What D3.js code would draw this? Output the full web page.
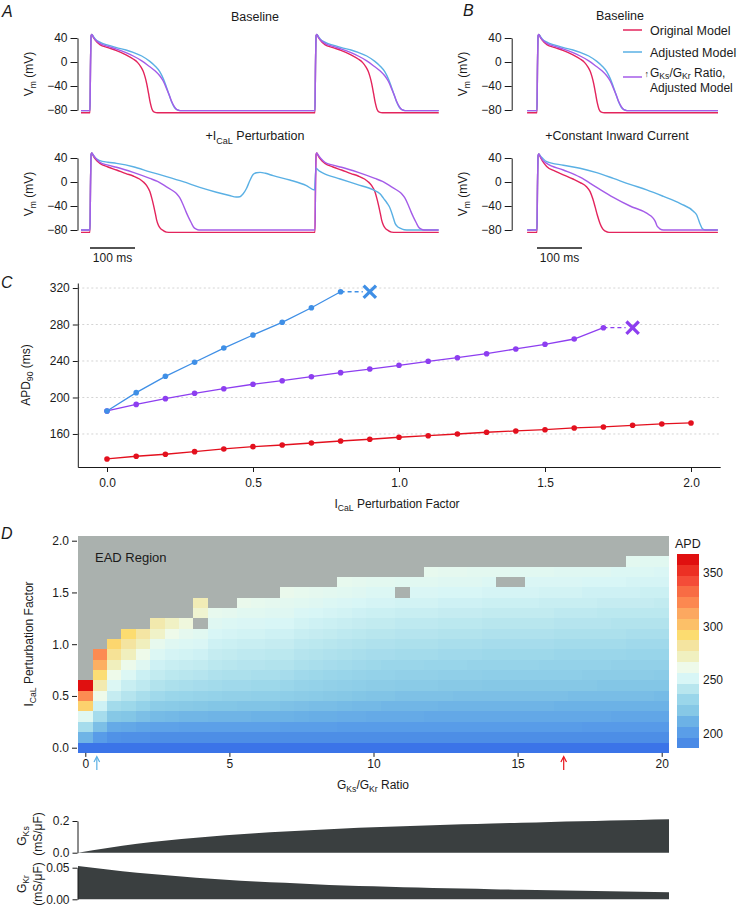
<!DOCTYPE html>
<html><head><meta charset="utf-8">
<script src="https://cdn.jsdelivr.net/npm/d3@7"></script>
<style>
html,body{margin:0;padding:0;background:#fff;}
svg{display:block;font-family:"Liberation Sans",Arial,Helvetica,sans-serif;}
</style></head><body>
<svg id="chart" width="742" height="909"></svg>
<script>
// ---------------- DATA ----------------
// Panels A/B : membrane potential traces, [time ms, Vm mV]
const beatStartsA = [0, 500];
const beatStartsB = [0];
const baselineOriginal = [[0,-84.5],[1.2,0],[2.5,44],[4,46],[7,42],[12,36],[22,29],[40,24],[59,19],[80,12],[96,5],[106,-1],[113,-8],[118,-15],[122,-24],[126,-36],[130,-52],[134,-68],[138,-79],[143,-83.5],[150,-84.5],[499,-84.5]];
const baselineAdjusted = [[0,-81],[1.2,0],[2.5,44],[4,46],[7,43],[12,38],[22,33],[40,28],[59,24],[80,20],[96,16],[115,10],[133,1],[145,-7],[155,-16],[163,-28],[170,-42],[176,-55],[181,-66],[187,-75],[193,-79.5],[200,-81],[499,-81]];
const baselineRatio = [[0,-81],[1.2,0],[2.5,44],[4,46],[7,42],[12,37],[22,31],[40,26],[59,21.5],[80,15.5],[96,10],[115,2],[133,-8],[145,-15],[155,-23],[163,-32],[170,-44],[176,-55],[181,-65],[187,-74],[193,-79.5],[200,-81],[499,-81]];
const calOriginal = [[0,-84],[1.2,0],[2.5,46],[4,48.5],[7,44],[12,38],[22,31],[40,25],[59,20],[80,14],[96,10],[110,5],[118,0.5],[126,-6],[133,-16],[137,-26],[141,-38],[145,-52],[148,-63],[152,-72],[156,-77],[163,-81],[170,-83.5],[180,-84],[499,-84]];
const calRatio = [[0,-80],[1.2,0],[2.5,46],[4,48.5],[7,45],[12,40],[22,33],[40,28],[59,24.5],[96,16],[133,6],[150,1],[170,-8],[185,-15],[193,-20],[200,-27],[207,-38],[213,-49],[219,-59],[225,-68],[230,-75],[236,-78.5],[242,-80],[499,-80]];
const calAdjustedEAD = [[-22,-80],[0,-80],[1.2,0],[2.5,46],[4,48.5],[7,45],[12,40],[22,35.5],[40,33],[59,31],[96,25.5],[133,17],[170,9],[207,0.5],[244,-9],[281,-17],[310,-22.5],[325,-25],[333,-24.5],[340,-20],[348,-10.5],[355,2],[363,12.8],[370,15.5],[378,16],[390,14.5],[407,10.5],[444,3.3],[481,-6],[499,-13.3],[500.5,5],[502,22.8],[510,18],[519,14.5],[556,5],[593,-4],[630,-13.3],[645,-20],[652,-27],[660,-35],[667,-44],[673,-57],[678,-69],[683,-74],[689,-77],[698,-79.5],[710,-80],[775,-80]];
const inwardOriginal = [[-22,-84],[0,-84],[1.2,0],[2.5,44],[4,46.7],[7,42],[12,35],[21.5,26],[40,18],[58.5,12],[80,5],[96,-1],[110,-8],[118,-16],[124,-28],[129,-41],[134,-55],[140,-69],[146,-78],[152,-82],[160,-84],[402,-84]];
const inwardRatio = [[-22,-80],[0,-80],[1.2,0],[2.5,44],[4,46.7],[7,43],[12,37],[21.5,31],[58.5,20],[95.5,8],[132.6,-9],[169.6,-25.5],[206.7,-40],[243.7,-52],[258.5,-60.5],[263,-66],[266,-72],[270,-76],[273,-78],[281,-80],[402,-80]];
const inwardAdjusted = [[-22,-80],[0,-80],[1.2,0],[2.5,44],[4,46.7],[7,44],[12,40],[21.5,34],[58.5,28],[95.5,23],[132.6,15.5],[169.6,6],[206.7,-4],[243.7,-13],[281,-24],[318.5,-36],[348,-49],[355,-55],[359,-63],[363,-71],[366.7,-77],[374,-80],[402,-80]];
const vmTicks = [-80, -40, 0, 40];
const scaleBarMs = 100;

// Panel C : APD90 vs ICaL perturbation factor
const icalFactor = [0,0.1,0.2,0.3,0.4,0.5,0.6,0.7,0.8,0.9,1.0,1.1,1.2,1.3,1.4,1.5,1.6,1.7,1.8,1.9,2.0];
const apdOriginal = [132.6,135.6,137.8,140.6,143.6,146.1,147.9,150.1,152.3,154.2,156.4,158.1,160,161.9,163.3,164.7,166.6,167.7,169.5,171,172.1];
const apdAdjusted = [185.2,205.3,223.2,238.6,254.2,268.5,282.4,298.4,315.9];
const apdRatio = [185.2,192.4,198.7,204.6,209.6,214.5,218.4,222.8,227.2,231.2,235.3,239.7,243.6,248,253.2,258.3,264.1,276.5];
const eadFactorAdjusted = 0.9;
const eadFactorRatio = 1.8;
const apdTicks = [160, 200, 240, 280, 320];
const factorTicks = [0, 0.5, 1.0, 1.5, 2.0];

// Panel D : APD heatmap, one array per GKs/GKr ratio (rows = ICaL factor 0.0 upward; null / missing = EAD)
const ratioValues = [0,0.5,1,1.5,2,2.5,3,3.5,4,4.5,5,5.5,6,6.5,7,7.5,8,8.5,9,9.5,10,10.5,11,11.5,12,12.5,13,13.5,14,14.5,15,15.5,16,16.5,17,17.5,18,18.5,19,19.5,20];
const apdGrid = [
 [186,213,236,255,296,321,362],
 [186,201,218,236,249,262,277,291,309,321],
 [186,196,208,222,235,246,254,262,273,284,294],
 [186,195,207,221,233,241,247,254,261,273,282,292],
 [186,195,205,218,229,237,244,248,255,262,273,281],
 [186,194,204,216,225,234,240,245,249,254,259,270,278],
 [186,194,204,215,224,232,238,243,247,251,255,262,271],
 [186,194,203,214,223,231,237,242,246,250,254,258,265],
 [186,194,203,214,222,230,236,241,245,249,253,256,null,268,275],
 [186,194,203,213,221,229,235,239,243,246,249,252,255,259],
 [186,194,203,213,221,228,234,238,242,245,248,251,254,258],
 [186,194,203,213,220,228,234,238,241,244,247,250,253,256,260],
 [186,194,203,212,220,227,233,237,241,244,247,250,253,256,259],
 [186,194,203,212,220,227,233,237,240,243,246,249,252,255,258],
 [186,194,202,212,219,226,232,236,240,243,246,249,252,255,257,260],
 [186,194,202,211,218,225,230,234,238,241,244,247,250,253,256,259],
 [186,194,202,210,217,224,229,233,237,240,243,246,249,252,255,258],
 [186,194,202,210,217,223,228,232,236,239,242,245,248,251,254,257],
 [186,194,201,209,216,222,227,231,235,238,241,244,247,250,253,256,259],
 [186,194,201,209,215,221,226,230,234,237,240,243,246,249,252,255,258],
 [186,194,201,208,215,220,225,229,233,236,239,242,245,248,251,254,257],
 [186,194,201,208,214,220,225,229,232,236,239,242,245,248,251,254,257],
 [186,194,201,208,214,219,224,228,232,235,238,241,244,247,250,null,256],
 [186,194,201,208,214,219,224,228,232,235,238,241,244,247,250,253,256],
 [186,194,201,207,214,219,224,228,231,235,238,241,244,247,250,253,256,259],
 [186,194,201,207,213,219,223,227,231,234,237,240,243,246,249,252,255,258],
 [186,194,201,207,213,218,223,227,231,234,237,240,243,246,249,252,255,258],
 [186,194,201,207,213,218,223,227,230,234,237,240,243,246,249,252,255,257],
 [186,194,201,207,213,218,222,226,230,233,236,239,242,245,248,251,254,257],
 [186,194,201,207,213,218,222,226,230,233,236,239,242,245,248,251,null,257],
 [186,194,201,207,213,218,222,226,230,233,236,239,242,245,248,251,null,256],
 [186,194,201,207,213,218,222,226,230,233,236,239,242,245,248,251,253,256],
 [186,194,201,207,213,218,222,226,229,233,236,239,242,245,247,250,253,256],
 [186,194,201,207,212,218,222,226,229,232,235,238,241,244,247,250,253,255],
 [186,194,201,207,212,217,222,226,229,232,235,238,241,244,247,250,253,255],
 [186,194,200,207,212,217,222,225,229,232,235,238,241,244,247,249,252,255],
 [186,194,200,207,212,217,221,225,229,232,235,238,241,243,246,249,252,255],
 [186,194,200,206,212,217,221,225,228,232,235,238,240,243,246,249,252,254],
 [186,194,200,206,212,217,221,225,228,231,234,237,240,243,246,249,251,254,257],
 [186,194,200,206,212,217,221,225,228,231,234,237,240,243,246,248,251,254,256],
 [186,194,200,206,212,216,221,224,228,231,234,237,240,243,245,248,251,253,256]
];
const apdStops  = [186,192,202,212,222,232,242,252,262,272,282,292,302,312,322,332,342,352,362];
const apdColors = ["#3b74e8","#4a8ae6","#5a9ee8","#6cb2e6","#86c8e6","#9ad6ea","#b8e6ee","#d8f6f6","#eefaea","#f0f0c0","#f4e4a0","#fcdc70","#fcc068","#fca860","#fc8850","#f86c44","#f44c38","#ec3024","#e01010"];
const legendRange = [187, 367];
const legendBins = 18;
const legendTicks = [200, 250, 300, 350];
const heatYTicks = [0, 0.5, 1.0, 1.5, 2.0];
const heatXTicks = [0, 5, 10, 15, 20];
const markerRatios = [0.4, 16.6];

// Bottom : conductances vs ratio
const gRatio = [0,1,2,3,4,5,6,7,8,9,10,11,12,13,14,15,16,17,18,19,20];
const gKs = [0,0.030,0.056,0.077,0.095,0.110,0.123,0.134,0.144,0.153,0.161,0.167,0.173,0.179,0.184,0.189,0.194,0.198,0.203,0.207,0.211];
const gKr = [0.0525,0.047,0.042,0.038,0.034,0.031,0.028,0.026,0.024,0.022,0.0205,0.019,0.018,0.017,0.016,0.015,0.0143,0.0135,0.0126,0.012,0.0112];

// ---------------- STYLE ----------------
const ink = "#1a1a1a";
const traceCol = {orig: "#e3245c", adj: "#5ab0e4", ratio: "#a45ce8"};
const cCol = {orig: "#e3101e", adj: "#3f8fe6", ratio: "#8d3ef0"};
const eadGray = "#aab1ae";
const FS = 12;

const svg = d3.select("#chart");
const defs = svg.append("defs");

function addText(x, y, parts, o = {}) {
  const size = o.size || FS;
  const t = svg.append("text").attr("x", x).attr("y", y).attr("font-size", size)
    .attr("text-anchor", o.anchor || "start").attr("fill", o.fill || ink);
  if (o.rotate) t.attr("transform", `rotate(${o.rotate},${x},${y})`);
  if (o.italic) t.attr("font-style", "italic");
  const sh = size * (o.subShift || 0.28); let low = false;
  (typeof parts === "string" ? [parts] : parts).forEach(p => {
    const sub = Array.isArray(p);
    const ts = t.append("tspan").text(sub ? p[0] : p);
    if (sub) { ts.attr("font-size", size * 0.72); if (!low) ts.attr("dy", sh); low = true; }
    else if (low) { ts.attr("dy", -sh); low = false; }
  });
  return t;
}
function styleAxis(g, removeDomain) {
  g.attr("font-family", null).attr("font-size", FS);
  g.selectAll("text").attr("fill", ink);
  g.selectAll("line").attr("stroke", ink).attr("stroke-width", 1);
  g.selectAll(".domain").attr("stroke", ink).attr("stroke-width", 1);
  if (removeDomain) g.select(".domain").remove();
}
const minusFmt = d => d < 0 ? "\u2212" + Math.abs(d) : String(d);

function buildBeats(beat, starts, tStart) {
  const out = [[tStart, beat[0][1]]];
  starts.forEach(s => beat.forEach(([t, v]) => out.push([t + s, v])));
  return out;
}

let clipN = 0;
function tracePanel(p) {
  const x = d3.scaleLinear().domain(p.tDomain).range(p.xRange);
  const y = d3.scaleLinear().domain([-80, 40]).range(p.yRange);
  const ax = d3.axisLeft(y).tickValues(vmTicks).tickFormat(minusFmt).tickSizeInner(7).tickSizeOuter(0).tickPadding(3);
  svg.append("g").attr("transform", `translate(${p.axisX},0)`).call(ax).call(g => styleAxis(g));
  const id = "clip" + (clipN++);
  defs.append("clipPath").attr("id", id).append("rect")
    .attr("x", p.xRange[0]).attr("y", p.yRange[1] - 20).attr("width", p.xRange[1] - p.xRange[0]).attr("height", 110);
  const line = d3.line().x(d => x(d[0])).y(d => y(d[1])).curve(d3.curveMonotoneX);
  const g = svg.append("g").attr("clip-path", `url(#${id})`);
  p.series.forEach(s => g.append("path").attr("d", line(s.data)).attr("fill", "none")
    .attr("stroke", s.color).attr("stroke-width", 1.4).attr("stroke-linejoin", "round"));
  addText(p.axisX - 45, (p.yRange[0] + p.yRange[1]) / 2, ["V", ["m"], " (mV)"], {rotate: -90, anchor: "middle"});
  return x;
}

// ---------------- PANEL A ----------------
const tA = [-20, 775], xA = [81, 438.75];
const tB = [-22, 402], xB = [527.1, 717.9];
const xScaleA = tracePanel({tDomain: tA, xRange: xA, yRange: [110, 38], axisX: 77.5, series: [
  {color: traceCol.orig, data: buildBeats(baselineOriginal, beatStartsA, -22)},
  {color: traceCol.adj, data: buildBeats(baselineAdjusted, beatStartsA, -22)},
  {color: traceCol.ratio, data: buildBeats(baselineRatio, beatStartsA, -22)}]});
tracePanel({tDomain: tA, xRange: xA, yRange: [230, 158], axisX: 77.5, series: [
  {color: traceCol.orig, data: buildBeats(calOriginal, beatStartsA, -22)},
  {color: traceCol.adj, data: calAdjustedEAD},
  {color: traceCol.ratio, data: buildBeats(calRatio, beatStartsA, -22)}]});
// ---------------- PANEL B ----------------
const xScaleB = tracePanel({tDomain: tB, xRange: xB, yRange: [110, 38], axisX: 511.7, series: [
  {color: traceCol.orig, data: buildBeats(baselineOriginal, beatStartsB, -22)},
  {color: traceCol.adj, data: buildBeats(baselineAdjusted, beatStartsB, -22)},
  {color: traceCol.ratio, data: buildBeats(baselineRatio, beatStartsB, -22)}]});
tracePanel({tDomain: tB, xRange: xB, yRange: [230, 158], axisX: 511.7, series: [
  {color: traceCol.orig, data: inwardOriginal},
  {color: traceCol.adj, data: inwardAdjusted},
  {color: traceCol.ratio, data: inwardRatio}]});

// scale bars
[xScaleA, xScaleB].forEach(xs => {
  svg.append("line").attr("x1", xs(0)).attr("x2", xs(scaleBarMs)).attr("y1", 248).attr("y2", 248)
    .attr("stroke", ink).attr("stroke-width", 1.3);
  addText((xs(0) + xs(scaleBarMs)) / 2, 262, scaleBarMs + " ms", {anchor: "middle"});
});

// titles
addText(255, 20.5, "Baseline", {anchor: "middle", size: 12.5});
addText(255, 140, ["+I", ["CaL"], " Perturbation"], {anchor: "middle", size: 12.5});
addText(620, 19.5, "Baseline", {anchor: "middle", size: 12.5});
addText(617, 140, "+Constant Inward Current", {anchor: "middle", size: 12.5});

// legend
const legendColors = [traceCol.orig, traceCol.adj, traceCol.ratio];
const legendLineY = [30, 52, 77];
svg.append("g").selectAll("line").data(legendColors).join("line")
  .attr("x1", 623).attr("x2", 642).attr("y1", (d, i) => legendLineY[i]).attr("y2", (d, i) => legendLineY[i])
  .attr("stroke", d => d).attr("stroke-width", 1.5);
addText(650, 34.5, "Original Model", {size: 12.5});
addText(650, 56.5, "Adjusted Model", {size: 12.5});
addText(649, 76.5, "\u2191", {size: 9, anchor: "end"});
addText(650, 77, ["G", ["Ks"], "/G", ["Kr"], " Ratio,"], {size: 12, subShift: 0.2});
addText(650, 91.5, "Adjusted Model", {size: 12});

// panel letters
addText(2, 17, "A", {italic: true, size: 16});
addText(463, 15.5, "B", {italic: true, size: 16});
addText(1, 288, "C", {italic: true, size: 16});
addText(1, 539, "D", {italic: true, size: 16});

// ---------------- PANEL C ----------------
const xC = d3.scaleLinear().domain([-0.1, 2.1]).range([77.8, 720.2]);
const yC = d3.scaleLinear().domain([123.8, 325.5]).range([467, 283]);
svg.append("g").selectAll("line").data(apdTicks).join("line")
  .attr("x1", xC(-0.1)).attr("x2", xC(2.1)).attr("y1", d => yC(d)).attr("y2", d => yC(d))
  .attr("stroke", "#cfcfcf").attr("stroke-width", 0.9).attr("stroke-dasharray", "2,2.5");
svg.append("g").attr("transform", "translate(77.8,0)")
  .call(d3.axisLeft(yC).tickValues(apdTicks).tickSizeInner(5).tickSizeOuter(0).tickPadding(3))
  .call(g => styleAxis(g));
svg.append("g").attr("transform", "translate(0,467)")
  .call(d3.axisBottom(xC).tickValues(factorTicks).tickFormat(d3.format(".1f")).tickSizeInner(5).tickSizeOuter(0).tickPadding(6))
  .call(g => styleAxis(g));

function cSeries(vals, color, eadX) {
  const pts = vals.map((v, i) => [icalFactor[i], v]);
  const line = d3.line().x(d => xC(d[0])).y(d => yC(d[1]));
  svg.append("path").attr("d", line(pts)).attr("fill", "none").attr("stroke", color).attr("stroke-width", 1.3);
  if (eadX != null) {
    const last = pts[pts.length - 1];
    svg.append("line").attr("x1", xC(last[0])).attr("x2", xC(eadX) - 7).attr("y1", yC(last[1])).attr("y2", yC(last[1]))
      .attr("stroke", color).attr("stroke-width", 1.3).attr("stroke-dasharray", "4,3");
    const cx = xC(eadX), cy = yC(last[1]), s = 6.2;
    svg.append("path").attr("d", `M${cx - s},${cy - s}L${cx + s},${cy + s}M${cx - s},${cy + s}L${cx + s},${cy - s}`)
      .attr("stroke", color).attr("stroke-width", 3.2).attr("fill", "none");
  }
  svg.append("g").selectAll("circle").data(pts).join("circle")
    .attr("cx", d => xC(d[0])).attr("cy", d => yC(d[1])).attr("r", 2.8).attr("fill", color);
}
cSeries(apdOriginal, cCol.orig, null);
cSeries(apdRatio, cCol.ratio, eadFactorRatio);
cSeries(apdAdjusted, cCol.adj, eadFactorAdjusted);
addText(30, 375, ["APD", ["90"], " (ms)"], {rotate: -90, anchor: "middle"});
addText(397, 508, ["I", ["CaL"], " Perturbation Factor"], {anchor: "middle"});

// ---------------- PANEL D ----------------
const xD = d3.scaleLinear().domain([0, 20]).range([85.3, 661.7]);
const yD = d3.scaleLinear().domain([0, 2]).range([747.7, 540.7]);
const apdColor = d3.scaleLinear().domain(apdStops).range(apdColors).clamp(true);
const cells = [];
ratioValues.forEach((r, ci) => icalFactor.forEach((f, ri) => {
  const v = apdGrid[ci][ri];
  cells.push({r, f, v: (v === undefined ? null : v)});
}));
svg.append("g").attr("shape-rendering", "crispEdges").selectAll("rect").data(cells).join("rect")
  .attr("x", d => xD(d.r - 0.25)).attr("y", d => yD(d.f + 0.05))
  .attr("width", d => xD(d.r + 0.25) - xD(d.r - 0.25)).attr("height", d => yD(d.f - 0.05) - yD(d.f + 0.05))
  .attr("fill", d => d.v == null ? eadGray : apdColor(d.v));
addText(95, 562, "EAD Region", {size: 13});
svg.append("g").attr("transform", "translate(77,0)")
  .call(d3.axisLeft(yD).tickValues(heatYTicks).tickFormat(d3.format(".1f")).tickSizeInner(5).tickSizeOuter(0).tickPadding(3))
  .call(g => styleAxis(g, true));
svg.append("g").attr("transform", `translate(0,${yD(-0.05)})`)
  .call(d3.axisBottom(xD).tickValues(heatXTicks).tickSizeInner(4).tickSizeOuter(0).tickPadding(3))
  .call(g => styleAxis(g, true));
addText(33, 644, ["I", ["CaL"], " Perturbation Factor"], {rotate: -90, anchor: "middle"});
addText(373, 789, ["G", ["Ks"], "/G", ["Kr"], " Ratio"], {anchor: "middle"});
// arrows marking the two model ratios
const markerColors = [traceCol.adj, "#e8141c"];
markerRatios.forEach((r, i) => {
  const ax = xD(r), c = markerColors[i];
  svg.append("line").attr("x1", ax).attr("x2", ax).attr("y1", 770).attr("y2", 757.5).attr("stroke", c).attr("stroke-width", 1.2);
  svg.append("path").attr("d", `M${ax - 2.8},${762}L${ax},${756.5}L${ax + 2.8},${762}`).attr("fill", "none").attr("stroke", c).attr("stroke-width", 1.2);
});
// colour bar
const yCB = d3.scaleLinear().domain(legendRange).range([748.3, 554]);
const binW = (legendRange[1] - legendRange[0]) / legendBins;
const bins = d3.range(legendBins).map(i => legendRange[0] + i * binW);
svg.append("g").attr("shape-rendering", "crispEdges").selectAll("rect").data(bins).join("rect")
  .attr("x", 677).attr("width", 22).attr("y", d => yCB(d + binW)).attr("height", d => yCB(d) - yCB(d + binW))
  .attr("fill", d => apdColor(d + binW / 2));
svg.append("g").selectAll("text").data(legendTicks).join("text")
  .attr("x", 703).attr("y", d => yCB(d)).attr("dy", "0.35em").attr("font-size", FS).attr("fill", ink).text(d => d);
addText(675, 548, "APD", {size: 12.5});

// ---------------- CONDUCTANCES ----------------
const xG = d3.scaleLinear().domain([0, 20]).range([78, 669]);
const yKs = d3.scaleLinear().domain([0, 0.2]).range([852.7, 821]);
const yKr = d3.scaleLinear().domain([0, 0.05]).range([899.3, 867.7]);
const areaCol = "#3a3f40";
svg.append("path").attr("fill", areaCol)
  .attr("d", d3.area().x((d, i) => xG(gRatio[i])).y0(yKs(0)).y1(d => yKs(d)).curve(d3.curveMonotoneX)(gKs));
svg.append("path").attr("fill", areaCol)
  .attr("d", d3.area().x((d, i) => xG(gRatio[i])).y0(yKr(0)).y1(d => yKr(d)).curve(d3.curveMonotoneX)(gKr));
svg.append("g").attr("transform", "translate(77.5,0)")
  .call(d3.axisLeft(yKs).tickValues([0, 0.2]).tickFormat(d3.format(".1f")).tickSizeInner(5).tickSizeOuter(0).tickPadding(3))
  .call(g => styleAxis(g));
svg.append("g").attr("transform", "translate(77.5,0)")
  .call(d3.axisLeft(yKr).tickValues([0, 0.05]).tickFormat(d3.format(".2f")).tickSizeInner(5).tickSizeOuter(0).tickPadding(3))
  .call(g => styleAxis(g));
addText(26, 836, ["G", ["Ks"]], {rotate: -90, anchor: "middle"});
addText(42, 834, "(mS/\u03bcF)", {rotate: -90, anchor: "middle"});
addText(26, 884, ["G", ["Kr"]], {rotate: -90, anchor: "middle"});
addText(42, 884, "(mS/\u03bcF)", {rotate: -90, anchor: "middle"});
</script></body></html>
